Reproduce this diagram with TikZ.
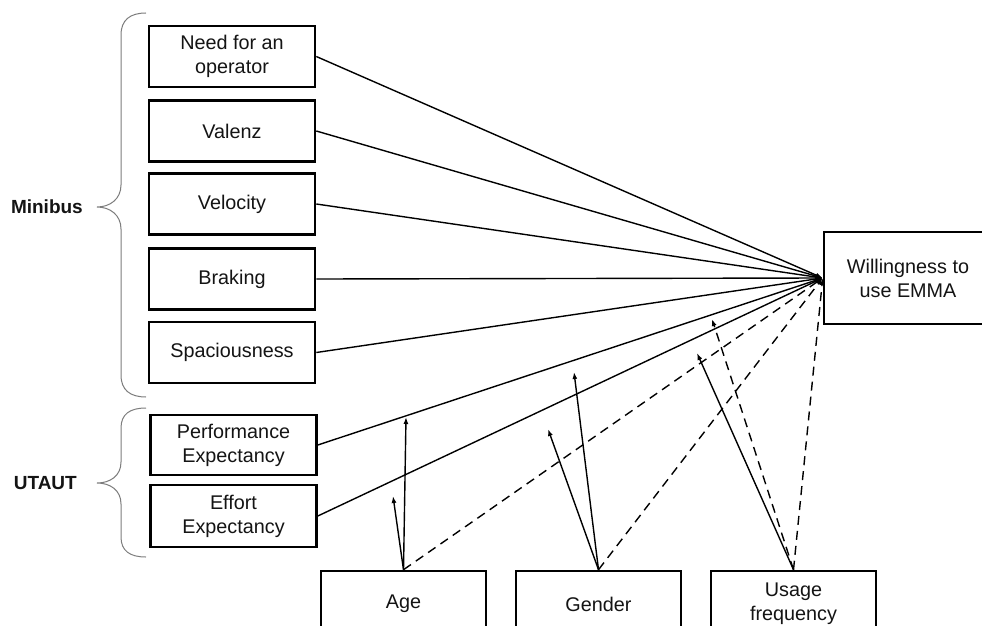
\documentclass[tikz,border=0pt]{standalone}
\usepackage{fontspec}
\setmainfont{Liberation Sans}
\usetikzlibrary{arrows.meta}
\definecolor{bracegray}{RGB}{125,125,125}
\definecolor{txt}{RGB}{20,20,20}
\begin{document}
\begin{tikzpicture}[x=1pt,y=-1pt,
  box/.style={draw=black, line width=2.6pt, fill=white, minimum width=166pt,
    minimum height=61pt, inner sep=0pt, align=center, text=txt,
    font=\fontsize{19.8}{24}\selectfont},
  grp/.style={anchor=east, inner sep=0pt, text=txt, font=\fontsize{19}{22}\selectfont\bfseries},
  brace/.style={draw=bracegray, line width=1pt},
  conn/.style={line width=1.4pt, -{Latex[length=7pt,width=5pt]}},
  dconn/.style={conn, dash pattern=on 9pt off 6pt}]
\useasboundingbox (0,0) rectangle (982,626);
\clip (0,0) rectangle (982,626);
\fill[white] (0,0) rectangle (982,626);

% braces
\draw[brace] (146,13) .. controls (130,13) and (121,20) .. (121,35) -- (121,185)
  .. controls (121,199) and (110,207) .. (97,207)
  .. controls (110,207) and (121,215) .. (121,229) -- (121,375)
  .. controls (121,390) and (130,397) .. (146,397);
\draw[brace] (146,408) .. controls (130,408) and (121,414) .. (121,428) -- (121,462)
  .. controls (121,476) and (110,483) .. (97,483)
  .. controls (110,483) and (121,490) .. (121,504) -- (121,537)
  .. controls (121,551) and (130,557) .. (146,557);
\node[grp] (minibus) at (83,207) {Minibus};
\node[grp] (utaut) at (77,483) {UTAUT};

% boxes
\node[box] (need) at (232,56.5) {Need for an\\operator};
\node[box] (valenz) at (232,131) {Valenz};
\node[box] (velo) at (232,204) {Velocity};
\node[box] (brake) at (232,279) {Braking};
\node[box] (spac) at (232,352.5) {Spaciousness};
\node[box, minimum height=60pt] (perf) at (233.5,445) {Performance\\Expectancy};
\node[box, minimum height=62pt] (eff) at (233.5,516) {Effort\\Expectancy};
\node[box, minimum width=168pt, minimum height=92pt] (w) at (908,278) {Willingness to\\use EMMA};
\node[box, minimum width=165pt, minimum height=66pt] (age) at (403.5,604) {Age};
\node[box, minimum width=165pt, minimum height=66pt] (gender) at (598.5,604) {Gender};
\node[box, minimum width=165pt, minimum height=66pt] (usage) at (793.5,604) {Usage\\frequency};

% free ends of moderator arrows
\coordinate (a1) at (406,417);
\coordinate (a2) at (393,496);
\coordinate (g1) at (574,372);
\coordinate (g2) at (548,429);
\coordinate (u1) at (697,353);
\coordinate (u2) at (712,319);

% main paths
\foreach \n in {need,valenz,velo,brake,spac,perf,eff}
  \draw[conn] (\n.east) -- (w.west);
\draw[dconn] (age.north) -- (w.west);
\draw[dconn] (gender.north) -- (w.west);
\draw[dconn] (usage.north) -- (w.west);

% moderator arrows
\draw[conn] (age.north) -- (a1);
\draw[conn] (age.north) -- (a2);
\draw[conn] (gender.north) -- (g1);
\draw[conn] (gender.north) -- (g2);
\draw[conn] (usage.north) -- (u1);
\draw[dconn] (usage.north) -- (u2);
\end{tikzpicture}
\end{document}
